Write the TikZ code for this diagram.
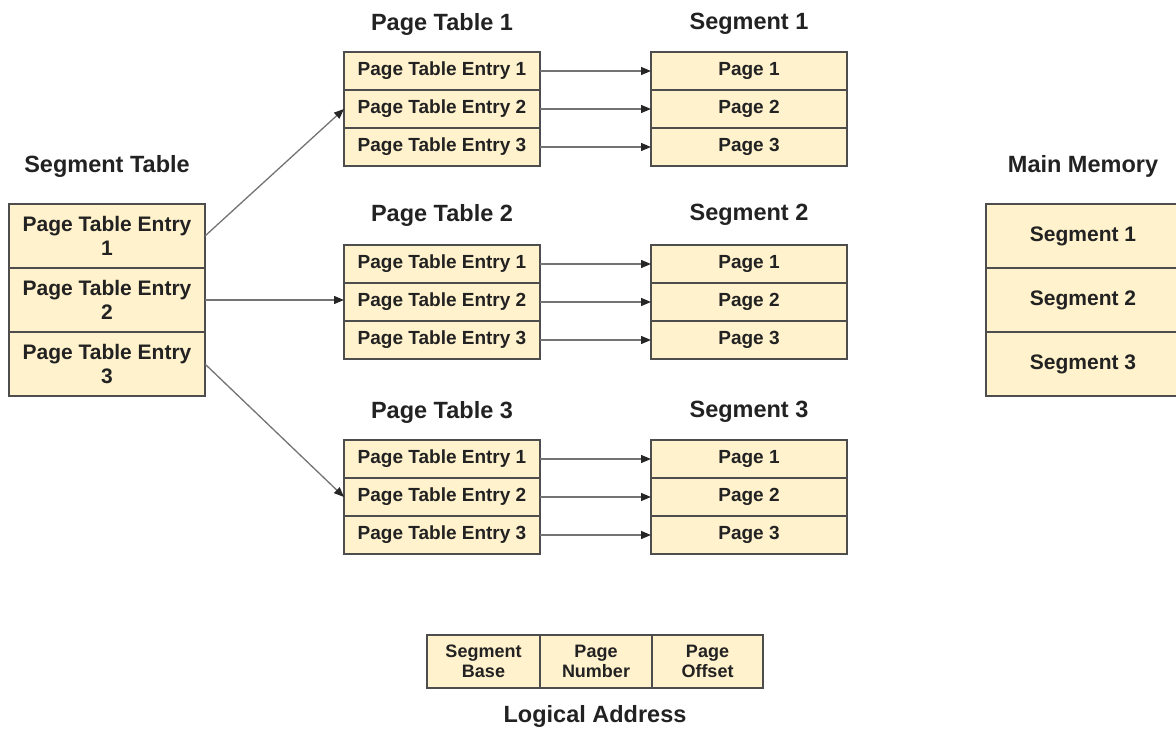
\documentclass[tikz,border=0pt]{standalone}
\usepackage{fontspec}
\setmainfont{Liberation Sans}
\usetikzlibrary{arrows.meta}
\definecolor{cellfill}{HTML}{FFF2CC}
\definecolor{cellline}{HTML}{4D4D4D}
\definecolor{txt}{HTML}{222222}
\begin{document}
\begin{tikzpicture}[x=1pt,y=-1pt,
  cell/.style={draw=cellline, line width=1.3pt, fill=cellfill, inner sep=0pt, outer sep=0pt,
    minimum width=196pt, align=center, text=txt, font=\bfseries\fontsize{19}{22}\selectfont},
  ptrow/.style={cell, minimum height=38pt},
  segrow/.style={cell, minimum height=64pt, font=\bfseries\fontsize{21}{24}\selectfont},
  memrow/.style={cell, minimum width=194pt, minimum height=64pt, font=\bfseries\fontsize{21}{24}\selectfont},
  lacell/.style={cell, minimum height=53pt, font=\bfseries\fontsize{18}{20}\selectfont},
  title/.style={inner sep=0pt, text=txt, font=\bfseries\fontsize{23.5}{26}\selectfont},
  conn/.style={draw=black!55, line width=1.3pt, -{Triangle[length=10pt,width=8pt,color=black!85]}}
]
\useasboundingbox (0,0) rectangle (1176,738);

% Segment table
\node[title] (tseg) at (107,166) {Segment Table};
\node[segrow] (s1) at (107,236) {Page Table Entry\\1};
\node[segrow] (s2) at (107,300) {Page Table Entry\\2};
\node[segrow] (s3) at (107,364) {Page Table Entry\\3};

% Page tables and segments
\foreach \k/\ty/\ya/\yb/\yc in {1/24/71/109/147, 2/215/264/302/340, 3/412/459/497/535}{
  \node[title] (tpt\k) at (442,\ty) {Page Table \k};
  \node[title] (tsg\k) at (749,\ty) {Segment \k};
  \node[ptrow] (p\k a) at (442,\ya) {Page Table Entry 1};
  \node[ptrow] (p\k b) at (442,\yb) {Page Table Entry 2};
  \node[ptrow] (p\k c) at (442,\yc) {Page Table Entry 3};
  \node[ptrow] (g\k a) at (749,\ya) {Page 1};
  \node[ptrow] (g\k b) at (749,\yb) {Page 2};
  \node[ptrow] (g\k c) at (749,\yc) {Page 3};
  \draw[conn] (p\k a.east) -- (g\k a.west);
  \draw[conn] (p\k b.east) -- (g\k b.west);
  \draw[conn] (p\k c.east) -- (g\k c.west);
}

% Segment table links
\draw[conn] (s1.east) -- (p1b.west);
\draw[conn] (s2.east) -- (s2.east -| p2b.west);
\draw[conn] (s3.east) -- (p3b.west);

% Main memory
\node[title] (tmem) at (1083,166) {Main Memory};
\node[memrow] (m1) at (1083,236) {Segment 1};
\node[memrow] (m2) at (1083,300) {Segment 2};
\node[memrow] (m3) at (1083,364) {Segment 3};

% Logical address
\node[lacell, minimum width=113pt] (la1) at (483.5,661.5) {Segment\\Base};
\node[lacell, minimum width=112pt] (la2) at (596,661.5) {Page\\Number};
\node[lacell, minimum width=111pt] (la3) at (707.5,661.5) {Page\\Offset};
\node[title] (tla) at (595,716) {Logical Address};
\end{tikzpicture}
\end{document}
